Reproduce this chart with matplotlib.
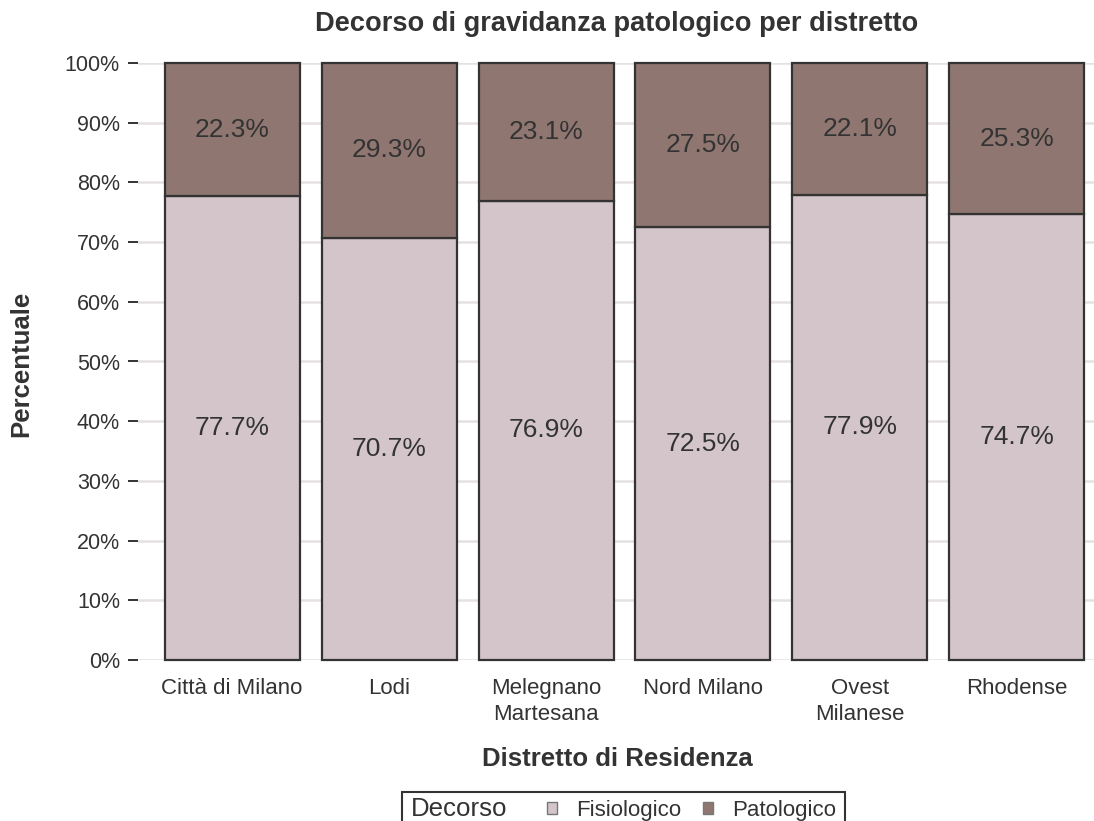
import numpy as np
import matplotlib.pyplot as plt
from matplotlib.patches import Patch, Rectangle

plt.rcParams['font.family'] = ['Liberation Sans', 'DejaVu Sans']

# share of pregnancies by outcome, per district (percent)
distretti = ["Città di Milano", "Lodi", "Melegnano\nMartesana", "Nord Milano",
             "Ovest\nMilanese", "Rhodense"]
fisiologico = [77.7, 70.7, 76.9, 72.5, 77.9, 74.7]
patologico = [22.3, 29.3, 23.1, 27.5, 22.1, 25.3]

col_fis = "#d3c5c9"
col_pat = "#8f7670"
dark = "#333333"

W, H = 1094, 821
fig = plt.figure(figsize=(W / 100, H / 100), dpi=100)
# plot panel in pixel terms
left, right, top, bottom = 138, 1111, 63, 660
ax = fig.add_axes([left / W, 1 - bottom / H, (right - left) / W, (bottom - top) / H])

x = np.arange(len(distretti))
fis = np.array(fisiologico) / 100
pat = np.array(patologico) / 100

ax.bar(x, fis, width=0.86, color=col_fis, edgecolor=dark, linewidth=1.6, zorder=3, clip_on=False)
ax.bar(x, pat, bottom=fis, width=0.86, color=col_pat, edgecolor=dark, linewidth=1.6, zorder=3, clip_on=False)

for i in range(len(x)):
    ax.text(x[i], fis[i] / 2, f"{fisiologico[i]:.1f}%", ha="center", va="center",
            fontsize=19, color=dark, zorder=4)
    ax.text(x[i], fis[i] + pat[i] / 2, f"{patologico[i]:.1f}%", ha="center", va="center",
            fontsize=19, color=dark, zorder=4)

ax.set_xlim(-0.6, 5.6)
ax.set_ylim(0, 1)
ax.set_yticks(np.arange(0, 1.01, 0.1))
ax.set_yticklabels([f"{int(round(v * 100))}%" for v in np.arange(0, 1.01, 0.1)])
ax.set_xticks(x)
ax.set_xticklabels(distretti, linespacing=1.3, va="top")
ax.tick_params(axis="y", length=7, width=1.4, color=dark, labelsize=15.5, labelcolor=dark, pad=6)
ax.tick_params(axis="x", length=0, labelsize=16, labelcolor=dark, pad=13)
ax.grid(axis="y", color="#e6e1e1", linewidth=1.8, zorder=0)
for s in ax.spines.values():
    s.set_visible(False)

fig.text(617 / W, 1 - 24 / H, "Decorso di gravidanza patologico per distretto",
         ha="center", va="center", fontsize=19.6, fontweight="bold", color=dark)
fig.text(617 / W, 1 - 759 / H, "Distretto di Residenza", ha="center", va="center",
         fontsize=18.5, fontweight="bold", color=dark)
fig.text(21 / W, 1 - 364 / H, "Percentuale", ha="center", va="center", rotation=90,
         fontsize=18.5, fontweight="bold", color=dark)

# legend: framed box with the title on the same row as the keys
fig.add_artist(Rectangle((402 / W, -0.05), (845 - 402) / W, 0.05 + (821 - 792) / H,
                         transform=fig.transFigure, facecolor="white",
                         edgecolor=dark, linewidth=1.5))
fig.text(411 / W, 1 - 809 / H, "Decorso", ha="left", va="center", fontsize=18.6, color=dark)
handles = [Patch(facecolor=col_fis, edgecolor="#777777"),
           Patch(facecolor=col_pat, edgecolor="#777777")]
leg = fig.legend(handles, ["Fisiologico", "Patologico"], ncol=2, loc="center left",
                 bbox_to_anchor=(547 / W, 1 - 810 / H), fontsize=16, frameon=False,
                 handlelength=0.45, handleheight=0.45, handletextpad=0.85,
                 columnspacing=1.0, borderpad=0, borderaxespad=0)
for t in leg.get_texts():
    t.set_color(dark)

fig.savefig("out.png", dpi=100)
